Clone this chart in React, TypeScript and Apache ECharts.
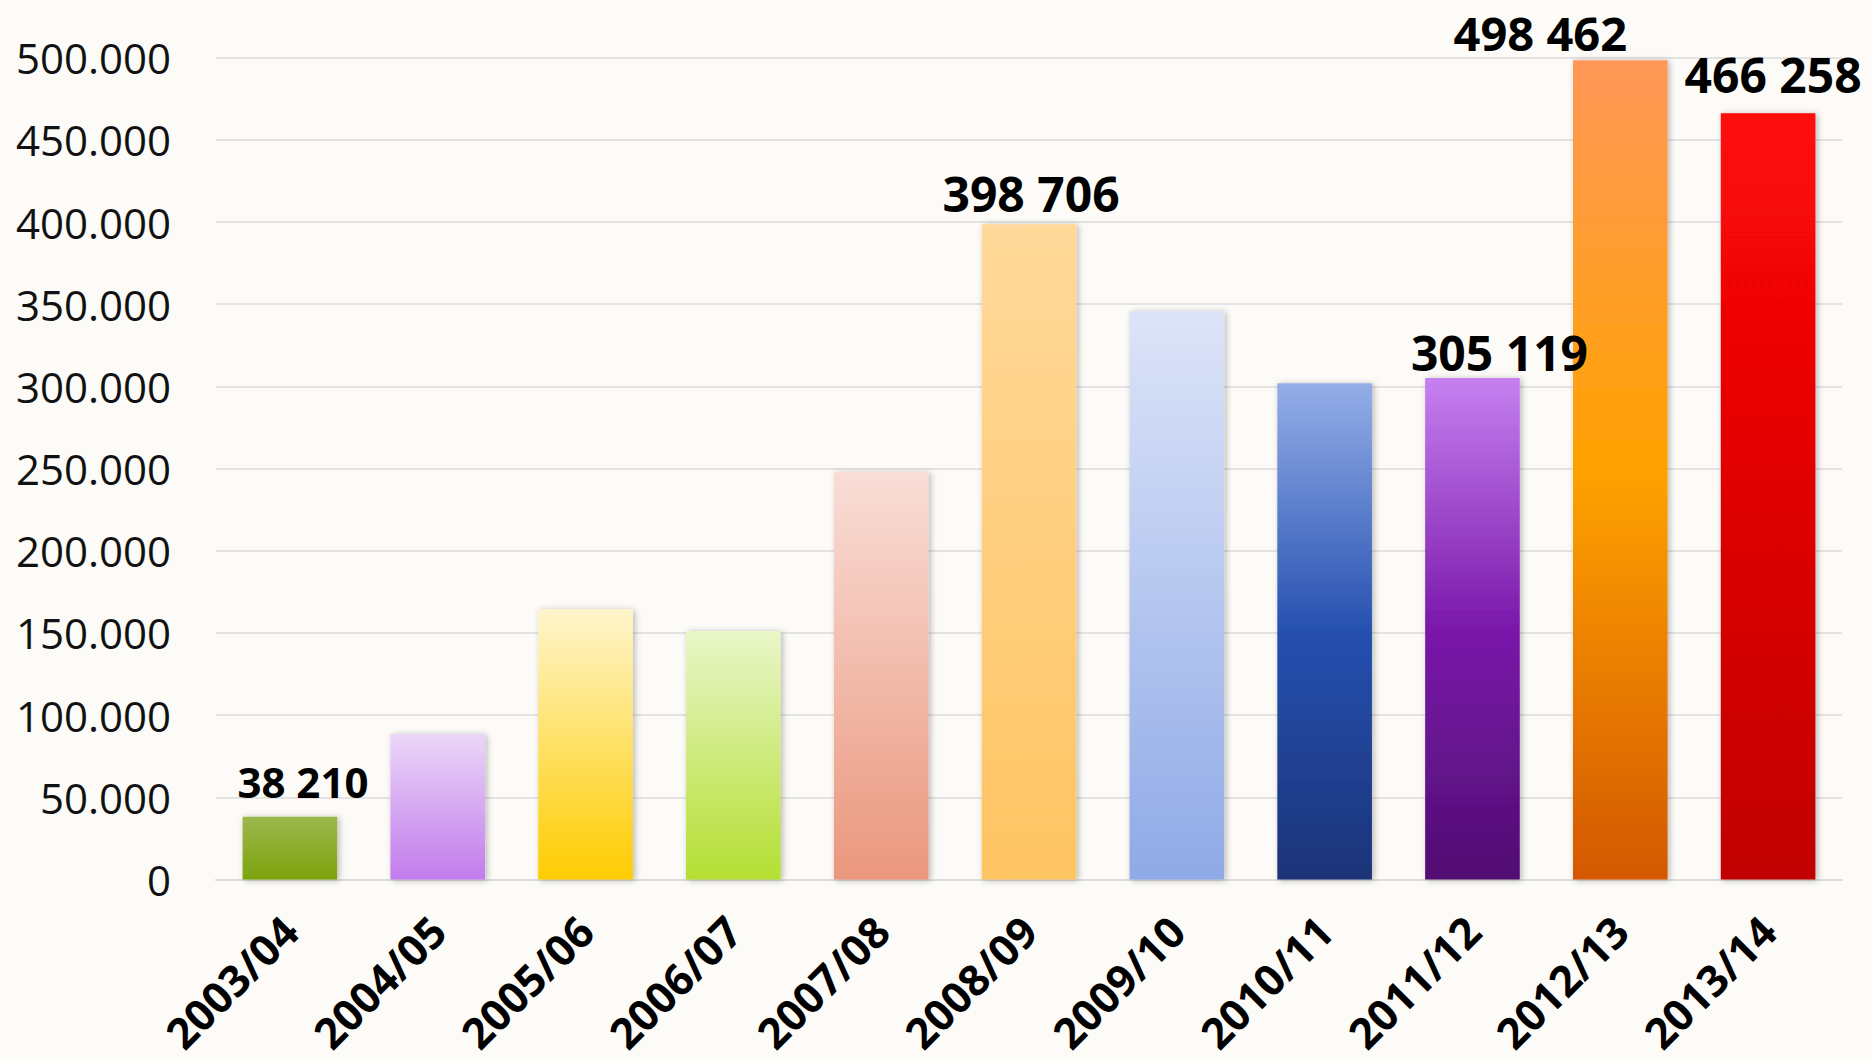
import React, { useEffect, useRef } from "react";
import * as echarts from "echarts";

const categories = [
  "2003/04", "2004/05", "2005/06", "2006/07", "2007/08", "2008/09",
  "2009/10", "2010/11", "2011/12", "2012/13", "2013/14",
];
const values = [38210, 88500, 164500, 151200, 248000, 398706, 345900, 302000, 305119, 498462, 466258];
const labelledIndices = [0, 5, 8, 9, 10];

const barGradients: string[][] = [
  ["#9bb84e", "#7da30c"],
  ["#ebd6f8", "#c27cec"],
  ["#fff5cc", "#ffcc00"],
  ["#e9f6c9", "#b4df32"],
  ["#f9ddd7", "#ea977d"],
  ["#ffd99a", "#ffc462"],
  ["#dde4f8", "#8faae7"],
  ["#95aee8", "#2550b0", "#1c3378"],
  ["#c680f0", "#7a18aa", "#510e72"],
  ["#ff9858", "#ffa200", "#d35800"],
  ["#ff0808", "#c00000"],
];

const labelTweaks: Record<number, { dx: number; dist: number; size: number }> = {
  0: { dx: 13, dist: 14, size: 42 },
  5: { dx: 2, dist: 7, size: 48 },
  8: { dx: 27, dist: 2, size: 48 },
  9: { dx: -80, dist: 4, size: 47 },
  10: { dx: 5, dist: 15, size: 48 },
};

const FONT = "'Open Sans', 'Noto Sans', sans-serif";

function fmtDot(v: number): string {
  if (v === 0) return "0";
  return String(v).replace(/\B(?=(\d{3})+(?!\d))/g, ".");
}
function fmtSpace(v: number): string {
  return String(v).replace(/\B(?=(\d{3})+(?!\d))/g, " ");
}

export default function App() {
  const ref = useRef<HTMLDivElement>(null);
  useEffect(() => {
    if (!ref.current) return;
    const chart = echarts.init(ref.current, null, { renderer: "svg" });
    const data = values.map((v, i) => {
      const stops = barGradients[i];
      const colorStops = stops.map((c, k) => ({ offset: k / (stops.length - 1), color: c }));
      const item: any = {
        value: v,
        itemStyle: {
          color: new echarts.graphic.LinearGradient(0, 0, 0, 1, colorStops),
        },
      };
      if (labelledIndices.includes(i)) {
        const t = labelTweaks[i];
        item.label = {
          show: true,
          position: "top",
          distance: t.dist,
          offset: [t.dx, 0],
          fontSize: t.size,
          fontWeight: "bold",
          fontFamily: FONT,
          color: "#000",
          formatter: (p: any) => fmtSpace(p.value),
        };
      }
      return item;
    });
    chart.setOption({
      animation: false,
      backgroundColor: "#fcfbf7",
      grid: { left: 216, right: 30, top: 57.7, bottom: 180.5, containLabel: false },
      xAxis: {
        type: "category",
        data: categories,
        axisLine: { show: true, lineStyle: { color: "#dedcdc", width: 2 } },
        axisTick: { show: false },
        axisLabel: {
          interval: 0,
          rotate: 45,
          margin: 44,
          fontSize: 43,
          fontWeight: "bold",
          fontFamily: FONT,
          color: "#000",
        },
      },
      yAxis: {
        type: "value",
        min: 0,
        max: 500000,
        interval: 50000,
        axisLine: { show: false },
        axisTick: { show: false },
        splitLine: { lineStyle: { color: "#e4e2e2", width: 2 } },
        axisLabel: {
          margin: 45,
          fontSize: 42,
          fontFamily: FONT,
          color: "#111",
          formatter: (v: number) => fmtDot(v),
        },
      },
      series: [
        {
          type: "bar",
          data,
          barWidth: "64%",
          itemStyle: {
            shadowBlur: 6,
            shadowColor: "rgba(0,0,0,0.28)",
            shadowOffsetX: 2,
            shadowOffsetY: 1,
          },
        },
      ],
    });
    return () => chart.dispose();
  }, []);
  return (
    <div
      ref={ref}
      style={{ position: "absolute", left: 0, top: 0, width: 1872, height: 1060 }}
    />
  );
}
